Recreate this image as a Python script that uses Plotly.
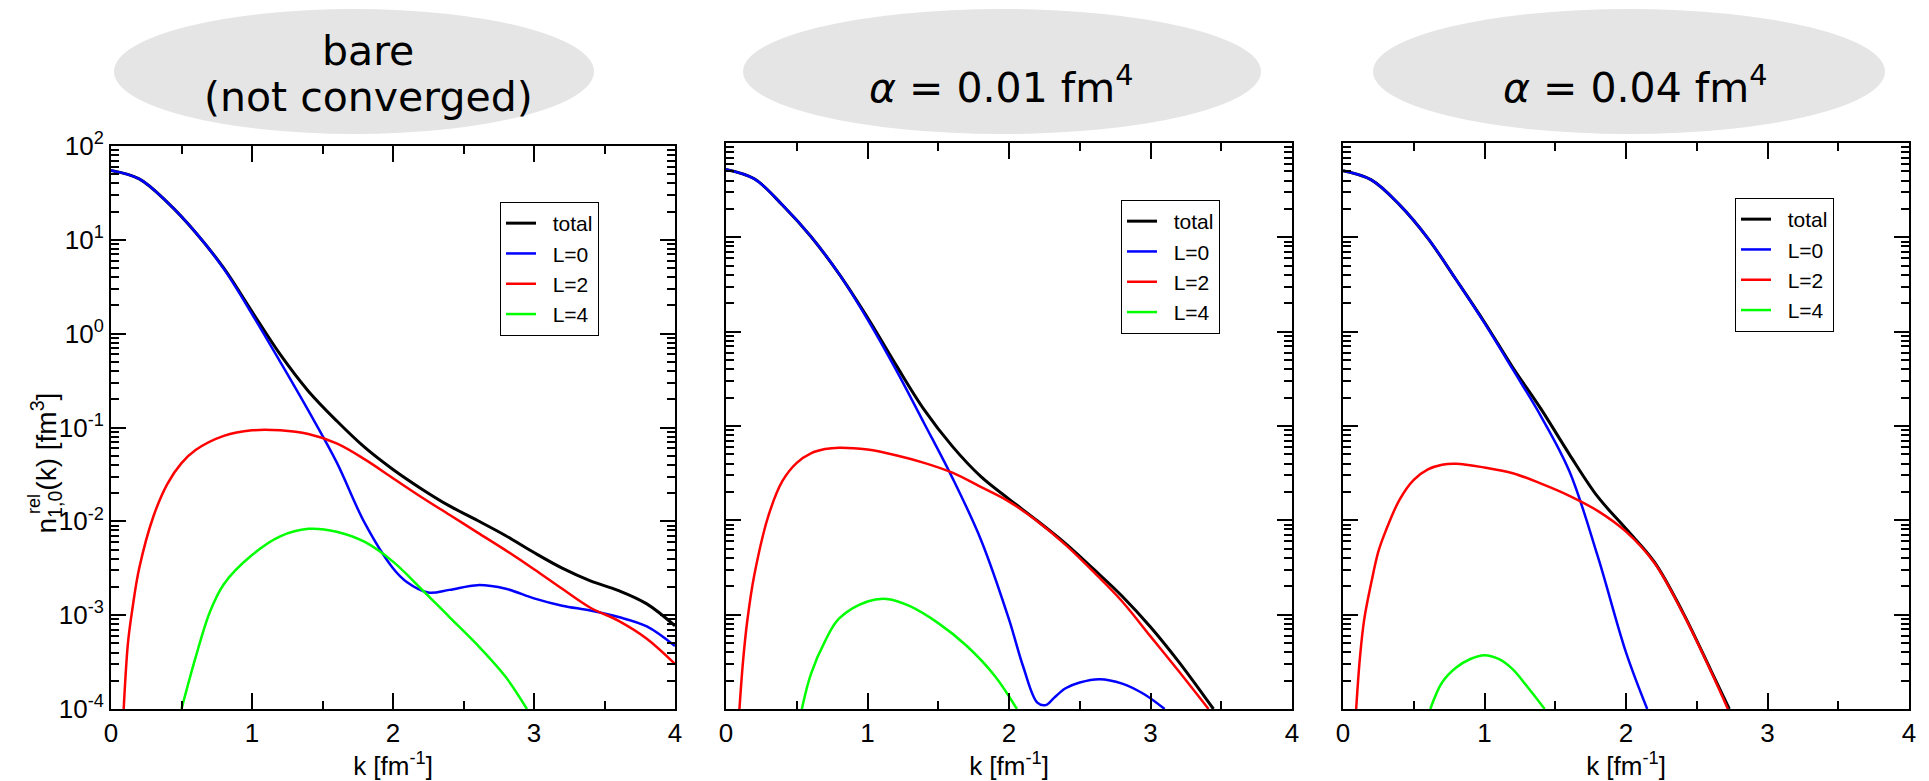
import plotly.graph_objects as go

# ---------------- data ----------------
# Panel 1: bare (not converged)
P1_K_TOTAL = [0, 0.2, 0.4, 0.6, 0.8, 1.0, 1.2, 1.4, 1.6, 1.8, 2.0, 2.2, 2.4, 2.6, 2.8, 3.0, 3.2, 3.4, 3.6, 3.8, 4.0]
P1_TOTAL = [55, 44.7, 25.1, 12.0, 4.98, 1.72, 0.601, 0.244, 0.118, 0.0613, 0.0357, 0.0223, 0.0146, 0.0102,
            0.00703, 0.00465, 0.00317, 0.00232, 0.00183, 0.00132, 0.00077]
P1_K_L0 = [0, 0.2, 0.4, 0.6, 0.8, 1.0, 1.2, 1.4, 1.6, 1.8, 2.0, 2.1, 2.25, 2.4, 2.6, 2.8, 3.0, 3.2, 3.4, 3.6, 3.8, 4.0]
P1_L0 = [55, 44.7, 25.1, 12.0, 4.90, 1.62, 0.501, 0.151, 0.0427, 9.55e-3, 3.16e-3, 2.24e-3, 1.74e-3, 1.86e-3,
         2.09e-3, 1.91e-3, 1.51e-3, 1.26e-3, 1.12e-3, 9.55e-4, 7.59e-4, 4.68e-4]
P1_K_L2 = [0.09, 0.12, 0.15, 0.2, 0.3, 0.4, 0.5, 0.6, 0.8, 1.0, 1.2, 1.4, 1.6, 1.8, 2.0, 2.2, 2.4, 2.6, 2.8, 3.0,
           3.2, 3.4, 3.6, 3.8, 4.0]
P1_L2 = [1e-4, 5.01e-4, 1.12e-3, 3.16e-3, 0.0112, 0.0251, 0.0417, 0.0575, 0.0813, 0.0933, 0.0933, 0.0851, 0.0676,
         0.0457, 0.0288, 0.0182, 0.01175, 7.59e-3, 4.90e-3, 3.09e-3, 1.91e-3, 1.20e-3, 8.71e-4, 5.62e-4, 3.02e-4]
P1_K_L4 = [0.5, 0.6, 0.7, 0.8, 1.0, 1.2, 1.4, 1.6, 1.8, 2.0, 2.2, 2.4, 2.6, 2.8, 2.95]
P1_L4 = [1e-4, 3.55e-4, 1.07e-3, 2.14e-3, 4.37e-3, 6.92e-3, 8.32e-3, 7.76e-3, 6.03e-3, 3.72e-3, 1.91e-3, 9.55e-4,
         4.79e-4, 2.19e-4, 1e-4]

# Panel 2: alpha = 0.01 fm^4
P2_K_TOTAL = [0, 0.2, 0.4, 0.6, 0.8, 1.0, 1.2, 1.4, 1.6, 1.8, 2.0, 2.2, 2.4, 2.6, 2.8, 3.0, 3.2, 3.445]
P2_TOTAL = [52.5, 41.7, 21.9, 10.2, 4.07, 1.41, 0.447, 0.149, 0.0608, 0.0292, 0.0168, 9.9e-3, 5.67e-3, 3.02e-3,
            1.57e-3, 7.41e-4, 3.16e-4, 1e-4]
P2_K_L0 = [0, 0.2, 0.4, 0.6, 0.8, 1.0, 1.2, 1.4, 1.6, 1.8, 2.0, 2.1, 2.2, 2.26, 2.32, 2.4, 2.5, 2.64, 2.8, 2.95, 3.1]
P2_L0 = [52.5, 41.7, 21.9, 10.2, 4.07, 1.35, 0.398, 0.107, 0.0282, 6.31e-3, 8.91e-4, 2.82e-4, 1.17e-4, 1.10e-4,
         1.32e-4, 1.66e-4, 1.91e-4, 2.07e-4, 1.86e-4, 1.45e-4, 1e-4]
P2_K_L2 = [0.095, 0.12, 0.15, 0.2, 0.3, 0.4, 0.5, 0.6, 0.7, 0.8, 1.0, 1.2, 1.4, 1.6, 1.8, 2.0, 2.2, 2.4, 2.6, 2.8,
           3.0, 3.2, 3.41]
P2_L2 = [1e-4, 3.16e-4, 8.51e-4, 2.63e-3, 0.0112, 0.0263, 0.0407, 0.0513, 0.0569, 0.0589, 0.0562, 0.0490, 0.0407,
         0.0320, 0.0226, 0.0158, 9.77e-3, 5.5e-3, 2.82e-3, 1.38e-3, 5.89e-4, 2.51e-4, 1e-4]
P2_K_L4 = [0.536, 0.6, 0.7, 0.8, 1.0, 1.15, 1.3, 1.5, 1.7, 1.9, 2.056]
P2_L4 = [1e-4, 2.34e-4, 5.25e-4, 9.12e-4, 1.38e-3, 1.46e-3, 1.23e-3, 8.13e-4, 4.68e-4, 2.24e-4, 1e-4]

# Panel 3: alpha = 0.04 fm^4
P3_K_TOTAL = [0, 0.2, 0.4, 0.6, 0.8, 1.0, 1.2, 1.4, 1.6, 1.8, 2.0, 2.2, 2.4, 2.6, 2.73]
P3_TOTAL = [50.9, 40.7, 22.1, 9.77, 3.55, 1.26, 0.417, 0.151, 0.0501, 0.0178, 8.13e-3, 3.63e-3, 1.07e-3,
            2.57e-4, 1e-4]
P3_K_L0 = [0, 0.2, 0.4, 0.6, 0.8, 1.0, 1.2, 1.4, 1.6, 1.8, 2.0, 2.15]
P3_L0 = [50.9, 40.7, 22.1, 9.77, 3.55, 1.23, 0.398, 0.126, 0.0331, 4.17e-3, 3.98e-4, 1e-4]
P3_K_L2 = [0.093, 0.12, 0.15, 0.2, 0.25, 0.3, 0.4, 0.5, 0.6, 0.7, 0.8, 1.0, 1.2, 1.4, 1.6, 1.8, 2.0, 2.2, 2.4,
           2.6, 2.72]
P3_L2 = [1e-4, 3.55e-4, 8.91e-4, 2.19e-3, 4.68e-3, 7.59e-3, 0.0166, 0.0269, 0.0347, 0.0389, 0.0398, 0.0363,
         0.0316, 0.0245, 0.0182, 0.0126, 7.59e-3, 3.55e-3, 1.05e-3, 2.51e-4, 1e-4]
P3_K_L4 = [0.617, 0.7, 0.8, 0.9, 1.0, 1.1, 1.2, 1.3, 1.425]
P3_L4 = [1e-4, 1.91e-4, 2.75e-4, 3.39e-4, 3.72e-4, 3.39e-4, 2.63e-4, 1.74e-4, 1e-4]

SERIES_NAMES = ["total", "L=0", "L=2", "L=4"]
SERIES_COLORS = ["#000000", "#0000ff", "#ff0000", "#00ff00"]
SERIES_WIDTHS = [3, 2.5, 2.5, 2.5]

PANEL_TITLES = [["bare", "(not converged)"], ["<i>α</i> = 0.01 fm<sup>4</sup>"], ["<i>α</i> = 0.04 fm<sup>4</sup>"]]
X_TICK_VALUES = [0, 1, 2, 3, 4]
X_TICK_TEXT = ["0", "1", "2", "3", "4"]
Y_TICK_VALUES = [1e-4, 1e-3, 1e-2, 1e-1, 1e0, 1e1, 1e2]
Y_TICK_TEXT = ["10<sup>-4</sup>", "10<sup>-3</sup>", "10<sup>-2</sup>", "10<sup>-1</sup>",
               "10<sup>0</sup>", "10<sup>1</sup>", "10<sup>2</sup>"]
X_TITLE = "k [fm<sup>-1</sup>]"
Y_TITLE_MAIN = "n<sub>1,0</sub>(k) [fm<sup>3</sup>]"
Y_TITLE_SUP = "rel"

panels = [
    [(P1_K_TOTAL, P1_TOTAL), (P1_K_L0, P1_L0), (P1_K_L2, P1_L2), (P1_K_L4, P1_L4)],
    [(P2_K_TOTAL, P2_TOTAL), (P2_K_L0, P2_L0), (P2_K_L2, P2_L2), (P2_K_L4, P2_L4)],
    [(P3_K_TOTAL, P3_TOTAL), (P3_K_L0, P3_L0), (P3_K_L2, P3_L2), (P3_K_L4, P3_L4)],
]

# ---------------- layout geometry (pixels in a 1929 x 781 page) ----------------
W, H = 1929, 781
def px(x):
    return x / W
def py(y):
    return (H - y) / H

X_DOMAINS = [(111, 675), (726, 1292), (1343, 1909)]
Y_TOPS = [146, 143, 143]
Y_BOTTOM = 709
LEGEND_POS = [(500, 202), (1121, 200), (1735, 198)]
ELLIPSES = [(114, 594), (743, 1261), (1373, 1885)]
ELL_Y = (9, 134)
TITLE_CX = [368, 1001, 1635]
LEGEND_GAP = "\u00a0\u00a0"   # extra gap between legend line sample and label

SANS = "Liberation Sans, Arial, sans-serif"
DEJAVU = "DejaVu Sans, sans-serif"

fig = go.Figure()

for i, panel in enumerate(panels):
    xa = "x" if i == 0 else f"x{i+1}"
    ya = "y" if i == 0 else f"y{i+1}"
    leg = "legend" if i == 0 else f"legend{i+1}"
    for (kx, vals), name, color, width in zip(panel, SERIES_NAMES, SERIES_COLORS, SERIES_WIDTHS):
        fig.add_trace(go.Scatter(
            x=kx, y=vals, mode="lines", name=LEGEND_GAP + name,
            line=dict(color=color, width=width, shape="spline", smoothing=1.0),
            xaxis=xa, yaxis=ya, legend=leg, hoverinfo="skip",
        ))

minor_y = [m * 10.0 ** e for e in range(-4, 2) for m in range(2, 10)]

layout = dict(
    template="none",
    width=W, height=H, autosize=False,
    margin=dict(l=0, r=0, t=0, b=0, pad=0),
    paper_bgcolor="white", plot_bgcolor="white",
    font=dict(family=SANS, color="black"),
    annotations=[], shapes=[],
)

for i in range(3):
    xkey = "xaxis" if i == 0 else f"xaxis{i+1}"
    ykey = "yaxis" if i == 0 else f"yaxis{i+1}"
    ya = "y" if i == 0 else f"y{i+1}"
    xa = "x" if i == 0 else f"x{i+1}"
    x0, x1 = X_DOMAINS[i]
    layout[xkey] = dict(
        domain=[px(x0), px(x1)], anchor=ya, range=[0, 4], automargin=False,
        tickmode="array", tickvals=X_TICK_VALUES, ticktext=X_TICK_TEXT,
        ticks="inside", ticklen=16, tickwidth=1.5, tickcolor="black",
        minor=dict(tickmode="linear", tick0=0, dtick=0.5, ticks="inside", ticklen=8,
                   tickwidth=1.5, tickcolor="black", showgrid=False),
        showline=True, linewidth=2, linecolor="black", mirror="allticks",
        showgrid=False, zeroline=False,
        tickfont=dict(size=26, family=SANS, color="black"),
        title=dict(text=X_TITLE, font=dict(size=26, family=SANS, color="black"), standoff=10),
    )
    layout[ykey] = dict(
        domain=[py(Y_BOTTOM), py(Y_TOPS[i])], anchor=xa, type="log", range=[-4, 2], automargin=False,
        tickmode="array", tickvals=Y_TICK_VALUES, ticktext=Y_TICK_TEXT,
        ticks="inside", ticklen=15, tickwidth=1.5, tickcolor="black",
        minor=dict(tickmode="array", tickvals=minor_y, ticks="inside", ticklen=8,
                   tickwidth=1.5, tickcolor="black", showgrid=False),
        showline=True, linewidth=2, linecolor="black", mirror="allticks",
        showgrid=False, zeroline=False, showticklabels=(i == 0),
        tickfont=dict(size=26, family=SANS, color="black"),
    )
    lkey = "legend" if i == 0 else f"legend{i+1}"
    lx, ly = LEGEND_POS[i]
    layout[lkey] = dict(
        x=px(lx), y=py(ly), xanchor="left", yanchor="top",
        bgcolor="white", bordercolor="black", borderwidth=1,
        font=dict(size=21, family=SANS, color="black"),
        tracegroupgap=0,
    )
    ex0, ex1 = ELLIPSES[i]
    layout["shapes"].append(dict(
        type="circle", xref="paper", yref="paper",
        x0=px(ex0), x1=px(ex1), y0=py(ELL_Y[1]), y1=py(ELL_Y[0]),
        fillcolor="#e5e5e5", line=dict(width=0), layer="below",
    ))

# panel titles inside the ellipses
TITLE_FONT = dict(size=41, family=DEJAVU, color="black")
layout["annotations"].append(dict(text=PANEL_TITLES[0][0], xref="paper", yref="paper",
    x=px(TITLE_CX[0]), y=py(51), xanchor="center", yanchor="middle", showarrow=False, font=TITLE_FONT))
layout["annotations"].append(dict(text=PANEL_TITLES[0][1], xref="paper", yref="paper",
    x=px(TITLE_CX[0]), y=py(97), xanchor="center", yanchor="middle", showarrow=False, font=TITLE_FONT))
for i in (1, 2):
    layout["annotations"].append(dict(text=PANEL_TITLES[i][0], xref="paper", yref="paper",
        x=px(TITLE_CX[i]), y=py(85), xanchor="center", yanchor="middle", showarrow=False, font=TITLE_FONT))

# y-axis title: n^{rel}_{1,0}(k) [fm^3] with stacked super/subscript
layout["annotations"].append(dict(text=Y_TITLE_MAIN, xref="paper", yref="paper",
    x=px(46), y=py(536), xanchor="center", yanchor="bottom", textangle=-90, showarrow=False,
    font=dict(size=28, family=SANS, color="black")))
layout["annotations"].append(dict(text=Y_TITLE_SUP, xref="paper", yref="paper",
    x=px(34), y=py(516), xanchor="center", yanchor="bottom", textangle=-90, showarrow=False,
    font=dict(size=18, family=SANS, color="black")))

fig.update_layout(**layout)
fig.write_html("out.html")
